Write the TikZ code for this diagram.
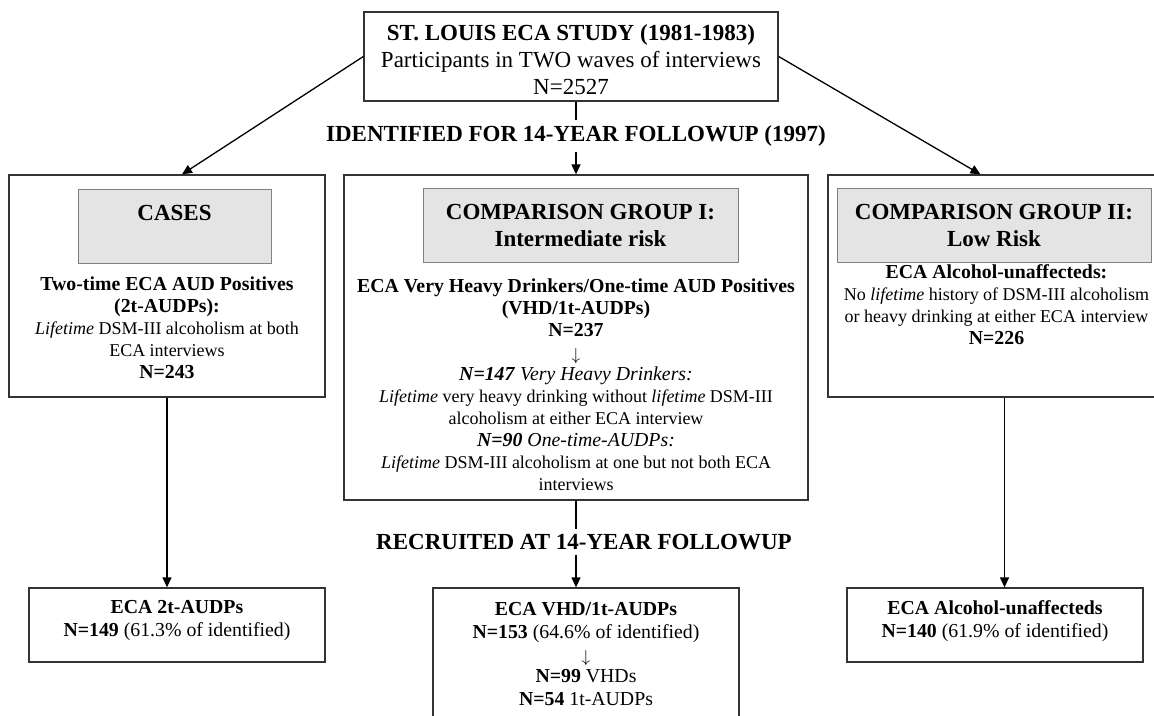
\documentclass[tikz,border=0pt]{standalone}
\usepackage{fontspec}
\setmainfont{Liberation Serif}
\usepackage{xcolor}
\usetikzlibrary{arrows.meta}
\definecolor{fdark}{HTML}{333333}
\definecolor{hgray}{HTML}{e4e4e4}
\definecolor{hedge}{HTML}{808080}
\newcommand\leadline[1]{{\fontsize{19.8}{22}\selectfont #1}}
\newcommand\splitarrow{\raisebox{-2pt}{$\downarrow$}}

\tikzset{
	frame/.style={draw=fdark, line width=1.3pt, inner sep=0pt},
	headbox/.style={draw=hedge, fill=hgray, line width=1pt, align=center, inner sep=0pt,
		font=\fontsize{23}{27}\selectfont\bfseries},
	bodytext/.style={align=center, inner sep=0pt, font=\fontsize{18}{22}\selectfont},
	recText/.style={align=center, inner sep=0pt, font=\fontsize{19.8}{23}\selectfont},
	steplabel/.style={inner sep=5pt, font=\fontsize{23}{27}\selectfont\bfseries},
	conn/.style={draw=black, line width=1.3pt},
	connarrow/.style={conn, -{Triangle[length=10pt,width=9pt]}}
}

\begin{document}
\begin{tikzpicture}[x=1pt,y=-1pt]
		\useasboundingbox (0,0) rectangle (1154,715);
		% top box
		\node[frame, minimum width=414pt, minimum height=89pt] (study) at (571,56.5) {};
		\node[align=center, inner sep=0pt, font=\fontsize{23}{27}\selectfont] (studyTxt) at (571,60)
			{\textbf{ST. LOUIS ECA STUDY (1981-1983)}\\Participants in TWO waves of interviews\\N=2527};
		\node[steplabel] (identLbl) at (576,136) {IDENTIFIED FOR 14-YEAR FOLLOWUP (1997)};
		% identified groups
		\node[frame, minimum width=316pt, minimum height=222pt] (cases) at (167,286) {};
		\node[frame, minimum width=464pt, minimum height=325pt] (groupOne) at (576,337.5) {};
		\node[frame, minimum width=337pt, minimum height=222pt] (groupTwo) at (996.5,286) {};
		\node[headbox, minimum width=193pt, minimum height=74pt] (casesHead) at (174.5,226) {CASES\\\phantom{X}};
		\node[headbox, minimum width=315pt, minimum height=74pt] (groupOneHead) at (580.5,225) {COMPARISON GROUP I:\\Intermediate risk};
		\node[headbox, minimum width=314pt, minimum height=74pt] (groupTwoHead) at (994,225) {COMPARISON GROUP II:\\Low Risk};
		\node[bodytext] (casesBody) at (167,328)
			{\leadline{\textbf{Two-time ECA AUD Positives}}\\\leadline{\textbf{(2t-AUDPs):}}\\\textit{Lifetime} DSM-III alcoholism at both\\ECA interviews\\\leadline{\textbf{N=243}}};
		\node[bodytext] (groupOneBody) at (576,385)
			{\leadline{\textbf{ECA Very Heavy Drinkers/One-time AUD Positives}}\\\leadline{\textbf{(VHD/1t-AUDPs)}}\\\leadline{\textbf{N=237}}\\\splitarrow\\
			\leadline{\textbf{\textit{N=147}} \textit{Very Heavy Drinkers:}}\\\textit{Lifetime} very heavy drinking without \textit{lifetime} DSM-III\\alcoholism at either ECA interview\\
			\leadline{\textbf{\textit{N=90}} \textit{One-time-AUDPs:}}\\\textit{Lifetime} DSM-III alcoholism at one but not both ECA\\interviews};
		\node[bodytext] (groupTwoBody) at (996.5,305)
			{\leadline{\textbf{ECA Alcohol-unaffecteds:}}\\No \textit{lifetime} history of DSM-III alcoholism\\or heavy drinking at either ECA interview\\\leadline{\textbf{N=226}}};
		\node[steplabel] (recLbl) at (584,542) {RECRUITED AT 14-YEAR FOLLOWUP};
		% recruited groups
		\node[frame, minimum width=296pt, minimum height=74pt] (recCases) at (177,625) {};
		\node[frame, minimum width=306pt, minimum height=150pt] (recOne) at (586,663) {};
		\node[frame, minimum width=296pt, minimum height=74pt] (recTwo) at (995,625) {};
		\node[recText] (recCasesTxt) at (177,621) {\textbf{ECA 2t-AUDPs}\\\textbf{N=149} (61.3\% of identified)};
		\node[recText, font=\fontsize{19.8}{22.3}\selectfont] (recOneTxt) at (586,654) {\textbf{ECA VHD/1t-AUDPs}\\\textbf{N=153} (64.6\% of identified)\\{\fontsize{18}{22.3}\selectfont\splitarrow}\\\textbf{N=99} VHDs\\\textbf{N=54} 1t-AUDPs};
		\node[recText] (recTwoTxt) at (995,621) {\textbf{ECA Alcohol-unaffecteds}\\\textbf{N=140} (61.9\% of identified)};
		% connectors
		\draw[connarrow] (study.west) -- ([xshift=15pt]cases.north);
		\draw[connarrow] (study.east) -- ([xshift=-16pt]groupTwo.north);
		\draw[conn] (study.south -| groupOne.north) -- (identLbl.north -| groupOne.north);
		\draw[connarrow] (identLbl.south -| groupOne.north) -- (groupOne.north);
		\draw[conn] (groupOne.south) -- (recLbl.north -| groupOne.south);
		\draw[connarrow] (recLbl.south -| groupOne.south) -- (recOne.north -| groupOne.south);
		\draw[connarrow] (cases.south) -- (cases.south |- recCases.north);
		\draw[connarrow] ([xshift=8pt]groupTwo.south) -- ([xshift=8pt]groupTwo.south |- recTwo.north);
	\end{tikzpicture}
\end{document}
